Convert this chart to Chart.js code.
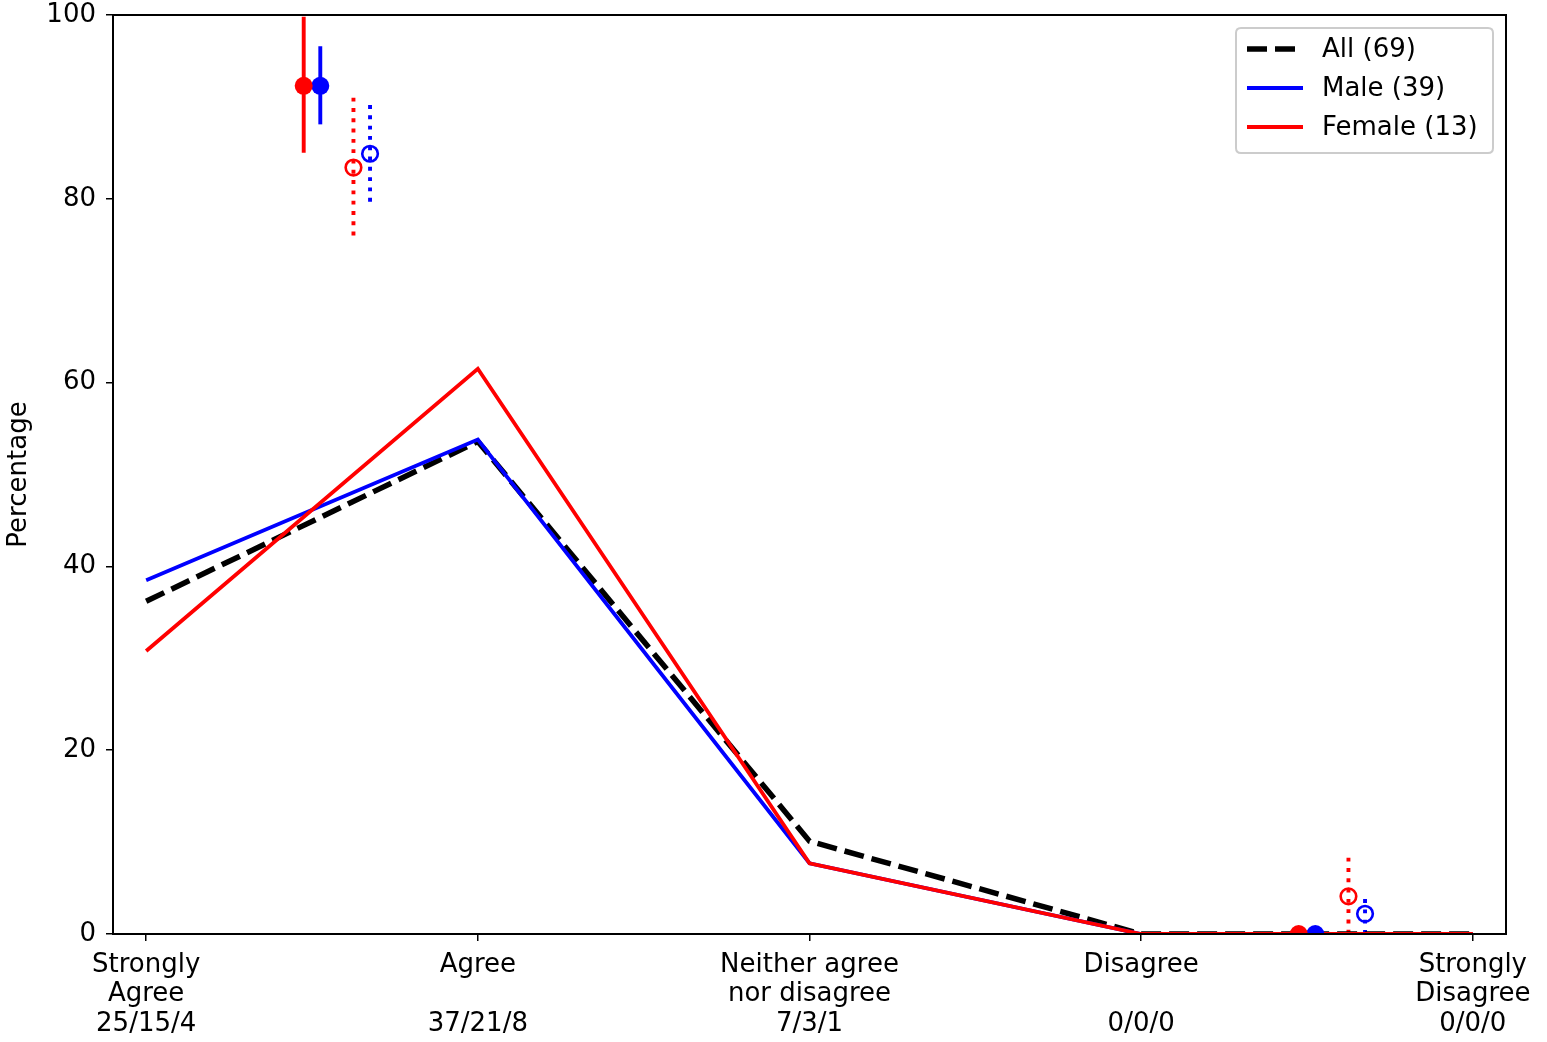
<!DOCTYPE html>
<html>
<head>
<meta charset="utf-8">
<script src="https://cdn.jsdelivr.net/npm/chart.js@4/dist/chart.umd.min.js"></script>
<style>
html,body{margin:0;padding:0;background:#fff;}
#wrap{width:1547px;height:1042px;}
</style>
</head>
<body>
<div id="wrap"><canvas id="c" width="1547" height="1042"></canvas></div>
<script>
// ---- data ----
const categories = ['Strongly Agree', 'Agree', 'Neither agree nor disagree', 'Disagree', 'Strongly Disagree'];
const tickLabels = [
  ['Strongly', 'Agree', '25/15/4'],
  ['Agree', '', '37/21/8'],
  ['Neither agree', 'nor disagree', '7/3/1'],
  ['Disagree', '', '0/0/0'],
  ['Strongly', 'Disagree', '0/0/0']
];
const allPct = [36.2, 53.6, 10.1, 0, 0];
const malePct = [38.5, 53.8, 7.7, 0, 0];
const femalePct = [30.8, 61.5, 7.7, 0, 0];

// summary markers (x position, value, error low, error high)
const femaleFilledX = [0.475, 3.475];
const femaleFilledY = [92.3, 0];
const femaleFilledLo = [85.0, 0];
const femaleFilledHi = [99.8, 0];
const maleFilledX = [0.525, 3.525];
const maleFilledY = [92.3, 0];
const maleFilledLo = [88.1, 0];
const maleFilledHi = [96.6, 0];
const femaleOpenX = [0.625, 3.625];
const femaleOpenY = [83.4, 4.1];
const femaleOpenLo = [75.7, 0];
const femaleOpenHi = [91.0, 8.3];
const maleOpenX = [0.675, 3.675];
const maleOpenY = [84.9, 2.2];
const maleOpenLo = [79.4, 0];
const maleOpenHi = [90.2, 3.8];

const legendItems = [
  {label: 'All (69)', color: '#000', dash: [20, 8], width: 5.5},
  {label: 'Male (39)', color: '#0000ff', dash: [], width: 3.8},
  {label: 'Female (13)', color: '#ff0000', dash: [], width: 3.8}
];

const FONT = "'DejaVu Sans', sans-serif";
const FS = 26;
Chart.defaults.color = '#000';
Chart.defaults.font.family = FONT;

const toPts = (xs, ys) => xs.map((x, i) => ({x: x, y: ys[i]}));
const catPts = (ys) => ys.map((y, i) => ({x: i, y: y}));

const errorBars = [
  {xs: femaleFilledX, lo: femaleFilledLo, hi: femaleFilledHi, color: '#ff0000', dash: []},
  {xs: maleFilledX, lo: maleFilledLo, hi: maleFilledHi, color: '#0000ff', dash: []},
  {xs: femaleOpenX, lo: femaleOpenLo, hi: femaleOpenHi, color: '#ff0000', dash: [3.9, 6.4]},
  {xs: maleOpenX, lo: maleOpenLo, hi: maleOpenHi, color: '#0000ff', dash: [3.9, 6.4]}
];

const errorPlugin = {
  id: 'errbars',
  beforeDatasetsDraw(chart) {
    const {ctx, chartArea, scales} = chart;
    ctx.save();
    ctx.beginPath();
    ctx.rect(chartArea.left, chartArea.top, chartArea.right - chartArea.left, chartArea.bottom - chartArea.top);
    ctx.clip();
    errorBars.forEach(eb => {
      ctx.strokeStyle = eb.color;
      ctx.lineWidth = 3.9;
      ctx.setLineDash(eb.dash);
      ctx.lineCap = 'butt';
      eb.xs.forEach((x, i) => {
        if (eb.hi[i] === eb.lo[i]) return;
        const px = scales.x.getPixelForValue(x);
        ctx.beginPath();
        ctx.moveTo(px, scales.y.getPixelForValue(eb.hi[i]));
        ctx.lineTo(px, scales.y.getPixelForValue(eb.lo[i]));
        ctx.stroke();
      });
    });
    ctx.restore();
  }
};

const framePlugin = {
  id: 'frame',
  afterDatasetsDraw(chart) {
    const {ctx, chartArea} = chart;
    ctx.save();
    ctx.strokeStyle = '#000';
    ctx.lineWidth = 2;
    ctx.strokeRect(chartArea.left, chartArea.top, chartArea.right - chartArea.left, chartArea.bottom - chartArea.top);
    ctx.restore();
  }
};

const legendPlugin = {
  id: 'mplLegend',
  afterDraw(chart) {
    const {ctx} = chart;
    const x0 = 1236, y0 = 28, w = 257, h = 125, r = 5;
    ctx.save();
    ctx.fillStyle = 'rgba(255,255,255,0.8)';
    ctx.strokeStyle = '#cccccc';
    ctx.lineWidth = 2;
    ctx.beginPath();
    ctx.moveTo(x0 + r, y0);
    ctx.lineTo(x0 + w - r, y0);
    ctx.quadraticCurveTo(x0 + w, y0, x0 + w, y0 + r);
    ctx.lineTo(x0 + w, y0 + h - r);
    ctx.quadraticCurveTo(x0 + w, y0 + h, x0 + w - r, y0 + h);
    ctx.lineTo(x0 + r, y0 + h);
    ctx.quadraticCurveTo(x0, y0 + h, x0, y0 + h - r);
    ctx.lineTo(x0, y0 + r);
    ctx.quadraticCurveTo(x0, y0, x0 + r, y0);
    ctx.closePath();
    ctx.fill();
    ctx.stroke();
    ctx.font = FS + 'px ' + FONT;
    ctx.textBaseline = 'middle';
    ctx.textAlign = 'left';
    legendItems.forEach((it, i) => {
      const cy = 49 + i * 39;
      ctx.strokeStyle = it.color;
      ctx.lineWidth = it.width;
      ctx.setLineDash(it.dash);
      ctx.beginPath();
      ctx.moveTo(1247, cy);
      ctx.lineTo(1303, cy);
      ctx.stroke();
      ctx.setLineDash([]);
      ctx.fillStyle = '#000';
      ctx.fillText(it.label, 1322, cy + 1);
    });
    ctx.restore();
  }
};

new Chart(document.getElementById('c'), {
  type: 'scatter',
  data: {
    datasets: [
      {label: 'All (69)', type: 'line', data: catPts(allPct), borderColor: '#000', borderWidth: 5.5, borderDash: [20, 8], pointRadius: 0, fill: false, tension: 0, order: 3},
      {label: 'Male (39)', type: 'line', data: catPts(malePct), borderColor: '#0000ff', borderWidth: 3.8, pointRadius: 0, fill: false, tension: 0, order: 2},
      {label: 'Female (13)', type: 'line', data: catPts(femalePct), borderColor: '#ff0000', borderWidth: 3.8, pointRadius: 0, fill: false, tension: 0, order: 1},
      {label: 'F filled', data: toPts(femaleFilledX, femaleFilledY), pointRadius: 9, pointBackgroundColor: '#ff0000', pointBorderColor: '#ff0000', pointBorderWidth: 0, order: 0},
      {label: 'M filled', data: toPts(maleFilledX, maleFilledY), pointRadius: 9, pointBackgroundColor: '#0000ff', pointBorderColor: '#0000ff', pointBorderWidth: 0, order: 0},
      {label: 'F open', data: toPts(femaleOpenX, femaleOpenY), pointRadius: 7.8, pointBackgroundColor: 'rgba(0,0,0,0)', pointBorderColor: '#ff0000', pointBorderWidth: 2.6, order: 0},
      {label: 'M open', data: toPts(maleOpenX, maleOpenY), pointRadius: 7.8, pointBackgroundColor: 'rgba(0,0,0,0)', pointBorderColor: '#0000ff', pointBorderWidth: 2.6, order: 0}
    ]
  },
  options: {
    responsive: false,
    animation: false,
    events: [],
    layout: {padding: {top: 15, right: 41, left: 0, bottom: 0}},
    plugins: {legend: {display: false}, tooltip: {enabled: false}, title: {display: false}},
    scales: {
      x: {
        type: 'linear',
        min: -0.1,
        max: 4.1,
        afterBuildTicks: (s) => { s.ticks = categories.map((c, i) => ({value: i})); },
        afterFit: (s) => { s.height = 108; s.paddingLeft = 0; s.paddingRight = 0; },
        grid: {drawOnChartArea: false, drawTicks: true, tickLength: 7, color: '#000', lineWidth: 1.5},
        border: {display: false},
        ticks: {
          autoSkip: false,
          maxRotation: 0,
          padding: 9,
          font: {size: FS, family: FONT, lineHeight: 1.135},
          color: '#000',
          callback: (v) => tickLabels[Math.round(v)]
        }
      },
      y: {
        min: 0,
        max: 100,
        afterFit: (s) => { s.width = 113; s.paddingTop = 0; s.paddingBottom = 0; },
        grid: {drawOnChartArea: false, drawTicks: true, tickLength: 7, color: '#000', lineWidth: 1.5},
        border: {display: false},
        ticks: {stepSize: 20, padding: 10, font: {size: FS, family: FONT}, color: '#000'},
        title: {display: true, text: 'Percentage', font: {size: FS, family: FONT}, color: '#000', padding: {top: 4, bottom: 0}}
      }
    }
  },
  plugins: [errorPlugin, framePlugin, legendPlugin]
});
</script>
</body>
</html>
